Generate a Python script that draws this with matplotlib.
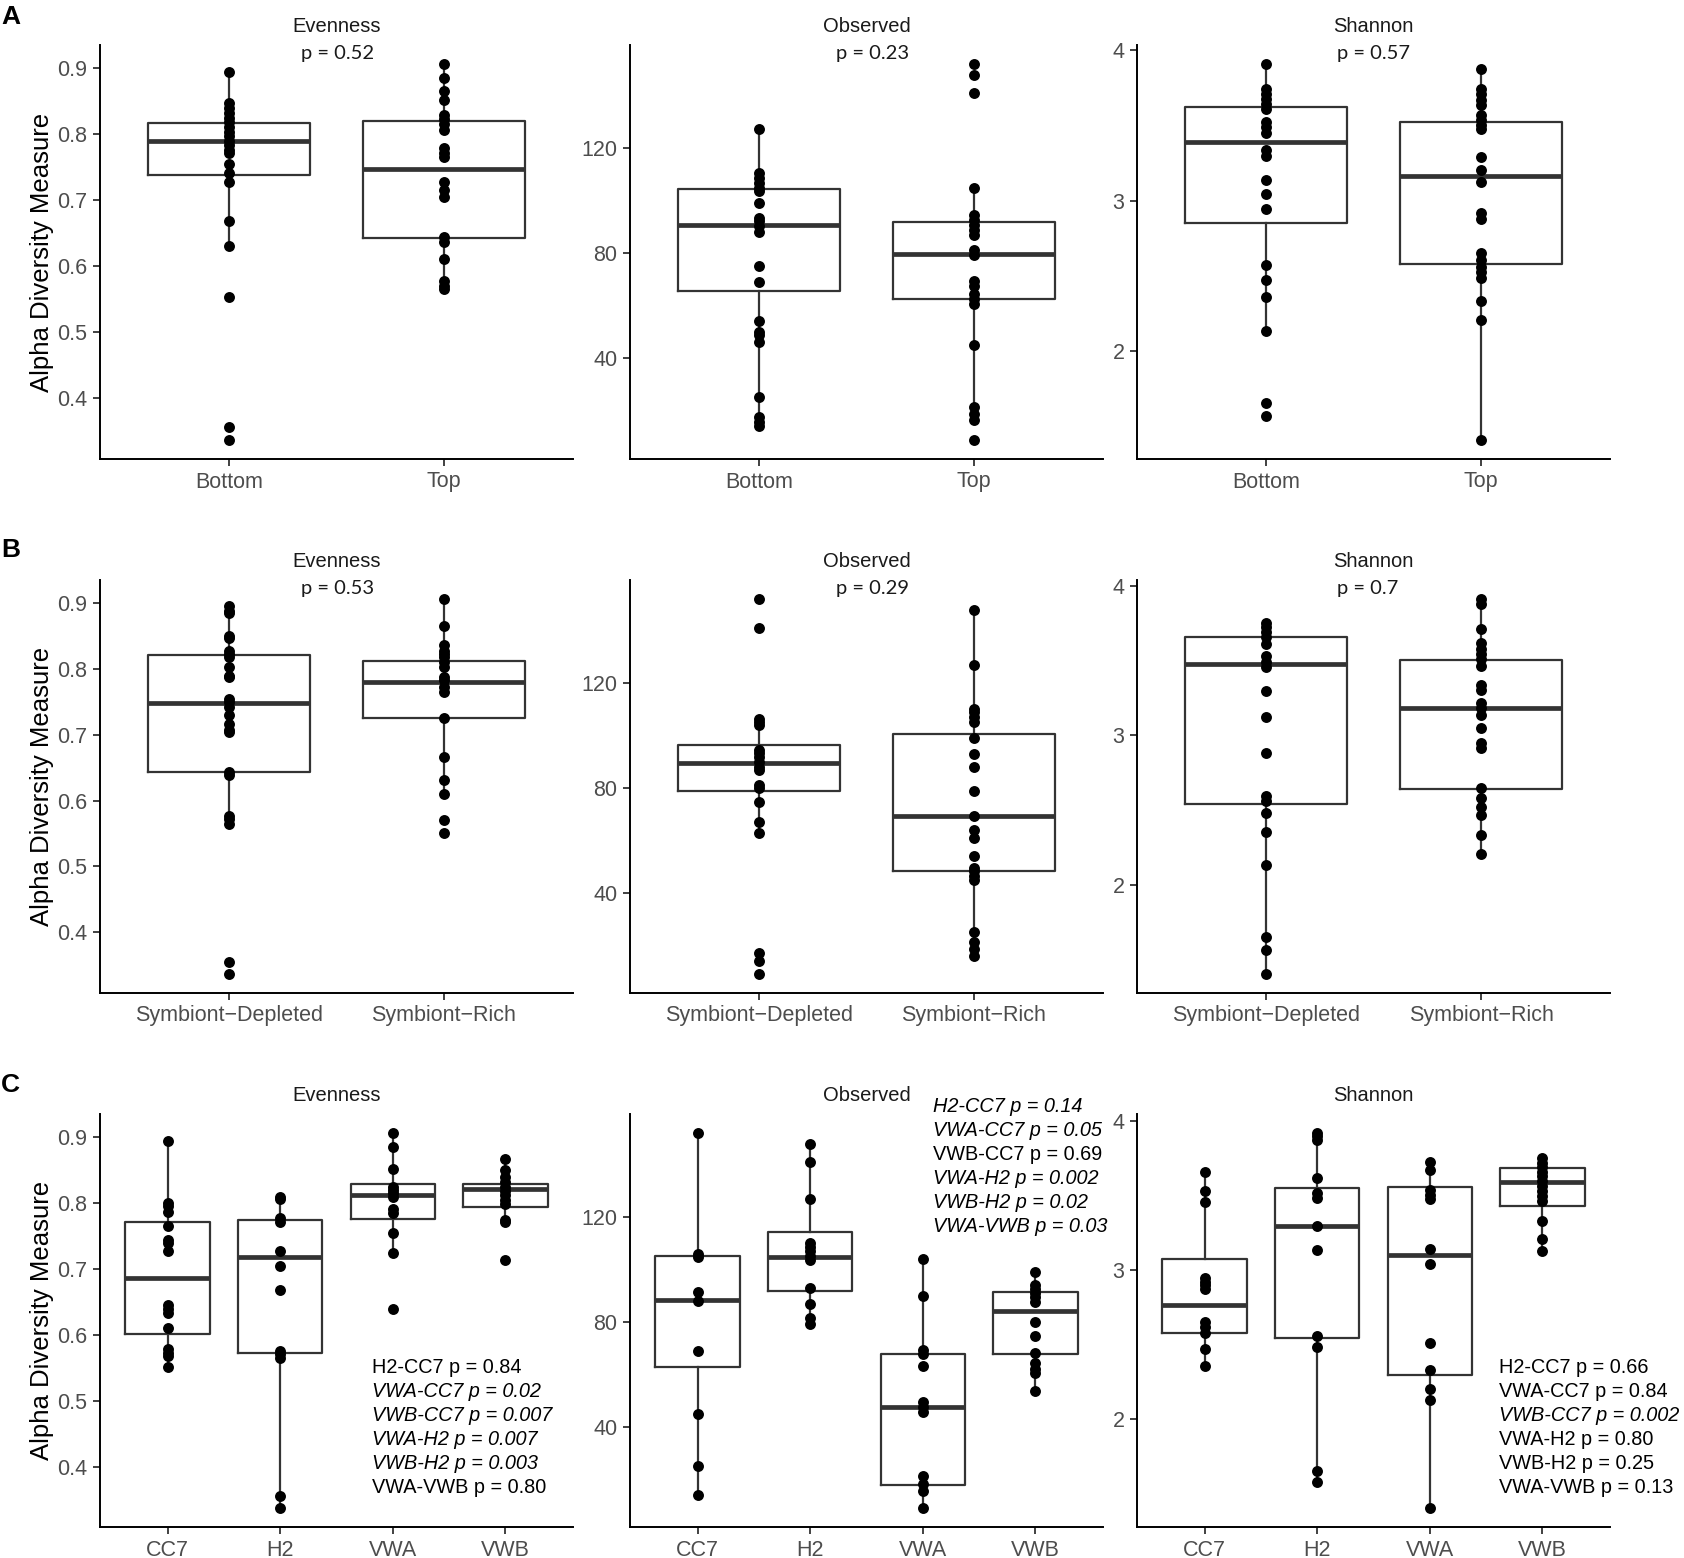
import matplotlib
matplotlib.use("Agg")
import matplotlib.pyplot as plt

plt.rcParams["font.family"] = ["Liberation Sans", "DejaVu Sans"]

# ---- row A: Bottom vs Top ----
a_groups = ["Bottom", "Top"]
a_even_bottom = [0.894, 0.848, 0.840, 0.832, 0.825, 0.818, 0.811, 0.804, 0.797, 0.790, 0.784,
                 0.777, 0.771, 0.755, 0.742, 0.728, 0.668, 0.631, 0.553, 0.356, 0.336]
a_even_top = [0.907, 0.886, 0.866, 0.852, 0.829, 0.824, 0.815, 0.806, 0.779, 0.771, 0.766,
              0.728, 0.716, 0.705, 0.645, 0.637, 0.611, 0.577, 0.570, 0.565]
a_even_box = [(0.631, 0.739, 0.790, 0.817, 0.894), (0.565, 0.643, 0.747, 0.820, 0.907)]

a_obs_bottom = [127.0, 110.3, 108.4, 106.5, 104.6, 103.6, 98.9, 93.2, 91.9, 90.0, 87.9,
                74.9, 68.9, 53.8, 49.6, 48.6, 45.8, 24.9, 17.3, 15.4, 13.8]
a_obs_top = [152.0, 147.8, 140.9, 104.8, 94.5, 92.6, 90.7, 88.8, 86.9, 81.1, 79.2,
             69.2, 67.3, 64.1, 62.2, 60.6, 44.8, 21.1, 18.6, 16.1, 8.5]
a_obs_box = [(13.8, 65.3, 90.4, 104.2, 127.0), (16.1, 62.5, 79.5, 91.6, 104.8)]

a_shan_bottom = [3.911, 3.745, 3.712, 3.679, 3.646, 3.612, 3.524, 3.491, 3.453, 3.336,
                 3.296, 3.136, 3.043, 2.941, 2.571, 2.472, 2.361, 2.133, 1.652, 1.568]
a_shan_top = [3.874, 3.745, 3.712, 3.668, 3.640, 3.568, 3.535, 3.502, 3.480, 3.291, 3.203,
              3.125, 2.915, 2.875, 2.649, 2.605, 2.560, 2.525, 2.483, 2.332, 2.206, 1.404]
a_shan_box = [(2.133, 2.853, 3.391, 3.623, 3.911), (1.404, 2.578, 3.163, 3.524, 3.874)]
a_pvals = ["p = 0.52", "p = 0.23", "p = 0.57"]

# ---- row B: Symbiont-Depleted vs Symbiont-Rich ----
b_groups = ["Symbiont\u2212Depleted", "Symbiont\u2212Rich"]
b_even_dep = [0.896, 0.889, 0.885, 0.851, 0.847, 0.828, 0.823, 0.818, 0.803, 0.790, 0.788,
              0.755, 0.750, 0.742, 0.730, 0.717, 0.707, 0.704, 0.644, 0.639, 0.577, 0.572,
              0.565, 0.355, 0.336]
b_even_rich = [0.907, 0.866, 0.836, 0.828, 0.823, 0.818, 0.811, 0.803, 0.788, 0.783, 0.773,
               0.765, 0.726, 0.667, 0.632, 0.610, 0.570, 0.551]
b_even_box = [(0.565, 0.643, 0.748, 0.821, 0.896), (0.610, 0.726, 0.780, 0.812, 0.907)]

b_obs_dep = [151.9, 140.9, 106.3, 105.1, 103.8, 94.3, 93.1, 91.6, 89.9, 88.0, 86.8, 81.0,
             79.8, 74.7, 67.1, 62.7, 17.2, 14.1, 9.0]
b_obs_rich = [147.8, 126.8, 110.1, 108.9, 107.0, 105.1, 98.8, 92.8, 88.0, 78.9, 69.1, 64.0,
              60.8, 53.9, 49.5, 48.2, 46.3, 44.8, 25.1, 21.3, 18.5, 16.0]
b_obs_box = [(62.7, 78.8, 89.5, 96.2, 106.3), (16.0, 48.4, 69.2, 100.4, 147.8)]

b_shan_dep = [3.753, 3.726, 3.693, 3.659, 3.610, 3.530, 3.492, 3.459, 3.298, 3.125, 2.880,
              2.595, 2.557, 2.479, 2.352, 2.129, 1.648, 1.561, 1.399]
b_shan_rich = [3.915, 3.882, 3.715, 3.619, 3.581, 3.548, 3.514, 3.465, 3.336, 3.303, 3.214,
               3.180, 3.136, 3.047, 2.947, 2.913, 2.650, 2.579, 2.519, 2.468, 2.334, 2.205]
b_shan_box = [(1.399, 2.541, 3.477, 3.661, 3.753), (2.205, 2.639, 3.180, 3.508, 3.915)]
b_pvals = ["p = 0.53", "p = 0.29", "p = 0.7"]

# ---- row C: CC7, H2, VWA, VWB ----
c_groups = ["CC7", "H2", "VWA", "VWB"]
c_even_cc7 = [0.895, 0.801, 0.796, 0.787, 0.766, 0.744, 0.739, 0.728, 0.645, 0.640, 0.633,
              0.611, 0.578, 0.573, 0.568, 0.552]
c_even_h2 = [0.810, 0.806, 0.777, 0.772, 0.728, 0.705, 0.668, 0.576, 0.571, 0.565, 0.356, 0.337]
c_even_vwa = [0.907, 0.886, 0.852, 0.825, 0.820, 0.815, 0.810, 0.791, 0.785, 0.755, 0.725, 0.639]
c_even_vwb = [0.867, 0.850, 0.840, 0.833, 0.825, 0.819, 0.813, 0.805, 0.799, 0.775, 0.771, 0.714]
c_even_box = [(0.552, 0.602, 0.686, 0.771, 0.895), (0.337, 0.572, 0.718, 0.774, 0.810),
              (0.725, 0.776, 0.812, 0.829, 0.907), (0.771, 0.795, 0.822, 0.829, 0.867)]

c_obs_cc7 = [151.9, 105.8, 104.6, 91.1, 87.7, 68.7, 44.7, 24.8, 13.9]
c_obs_h2 = [147.8, 140.9, 126.8, 110.1, 108.4, 106.7, 105.1, 103.5, 92.8, 86.8, 81.3, 78.9]
c_obs_vwa = [103.9, 89.9, 69.1, 67.5, 63.0, 49.4, 47.6, 45.6, 21.0, 18.1, 15.6, 8.9]
c_obs_vwb = [98.8, 94.0, 92.3, 90.8, 89.3, 87.6, 80.0, 74.6, 68.0, 64.2, 61.9, 60.3, 53.7]
c_obs_box = [(13.9, 62.8, 88.1, 105.1, 151.9), (78.9, 91.8, 104.6, 114.2, 147.8),
             (8.9, 17.7, 47.6, 67.5, 103.9), (53.7, 67.6, 84.1, 91.4, 98.8)]

c_shan_cc7 = [3.656, 3.529, 3.456, 2.949, 2.922, 2.900, 2.871, 2.656, 2.618, 2.578, 2.471, 2.360]
c_shan_h2 = [3.922, 3.900, 3.871, 3.618, 3.516, 3.484, 3.296, 3.133, 2.560, 2.484, 1.656, 1.578]
c_shan_vwa = [3.727, 3.671, 3.538, 3.507, 3.478, 3.144, 3.044, 2.511, 2.333, 2.204, 2.133, 1.404]
c_shan_vwb = [3.751, 3.722, 3.693, 3.662, 3.633, 3.600, 3.567, 3.533, 3.500, 3.467, 3.333,
              3.207, 3.127]
c_shan_box = [(2.360, 2.582, 2.767, 3.073, 3.656), (1.578, 2.544, 3.296, 3.549, 3.922),
              (1.404, 2.300, 3.100, 3.560, 3.727), (3.127, 3.433, 3.589, 3.684, 3.751)]

c_even_tests = ["H2-CC7 p = 0.84", "VWA-CC7 p = 0.02", "VWB-CC7 p = 0.007",
                "VWA-H2 p = 0.007", "VWB-H2 p = 0.003", "VWA-VWB p = 0.80"]
c_even_sig = [False, True, True, True, True, False]
c_obs_tests = ["H2-CC7 p = 0.14", "VWA-CC7 p = 0.05", "VWB-CC7 p = 0.69",
               "VWA-H2 p = 0.002", "VWB-H2 p = 0.02", "VWA-VWB p = 0.03"]
c_obs_sig = [True, True, False, True, True, True]
c_shan_tests = ["H2-CC7 p = 0.66", "VWA-CC7 p = 0.84", "VWB-CC7 p = 0.002",
                "VWA-H2 p = 0.80", "VWB-H2 p = 0.25", "VWA-VWB p = 0.13"]
c_shan_sig = [False, False, True, False, False, False]

metrics = ["Evenness", "Observed", "Shannon"]
yticks = [[0.4, 0.5, 0.6, 0.7, 0.8, 0.9], [40, 80, 120], [2, 3, 4]]
ytick_labels = [["0.4", "0.5", "0.6", "0.7", "0.8", "0.9"], ["40", "80", "120"], ["2", "3", "4"]]

W, H = 1684, 1558
fig = plt.figure(figsize=(W / 100, H / 100), dpi=100)

col_left = [100, 630, 1137]
ax_w = 473
row_top = [45, 580, 1114]
row_bot = [459, 993, 1527]

BOXC = "#333333"
TICKC = "#4D4D4D"


def draw_panel(ax, groups, samples, boxes, col):
    pos = list(range(1, len(groups) + 1))
    stats = [dict(whislo=b[0], q1=b[1], med=b[2], q3=b[3], whishi=b[4], fliers=[]) for b in boxes]
    ax.bxp(stats, positions=pos, widths=0.75, showcaps=False, showfliers=False,
           boxprops=dict(color=BOXC, lw=1.6),
           whiskerprops=dict(color=BOXC, lw=1.6),
           medianprops=dict(color=BOXC, lw=3.4))
    for p, vals in zip(pos, samples):
        ax.scatter([p] * len(vals), vals, s=62, color="black", zorder=3, linewidths=0)
    allv = [v for vals in samples for v in vals]
    lo, hi = min(allv), max(allv)
    pad = 0.05 * (hi - lo)
    ax.set_ylim(lo - pad, hi + pad)
    ax.set_xlim(0.4, len(groups) + 0.6)
    ax.set_xticks(pos)
    ax.set_xticklabels(groups)
    ax.set_yticks(yticks[col])
    ax.set_yticklabels(ytick_labels[col])
    for s in ["top", "right"]:
        ax.spines[s].set_visible(False)
    for s in ["left", "bottom"]:
        ax.spines[s].set_linewidth(1.4)
        ax.spines[s].set_color("black")
    ax.tick_params(length=5, width=1.3, color=BOXC, labelcolor=TICKC, labelsize=15.5, pad=4)
    ax.annotate(metrics[col], xy=(0.5, 1), xycoords="axes fraction", xytext=(0, 13),
                textcoords="offset points", ha="center", va="center", fontsize=14.5,
                color="#1A1A1A")
    if col == 0:
        ax.set_ylabel("Alpha Diversity Measure", fontsize=18.5, va="center")
        ax.yaxis.set_label_coords(-0.122, 0.5)


rows = [
    (a_groups, [[a_even_bottom, a_even_top], [a_obs_bottom, a_obs_top], [a_shan_bottom, a_shan_top]],
     [a_even_box, a_obs_box, a_shan_box]),
    (b_groups, [[b_even_dep, b_even_rich], [b_obs_dep, b_obs_rich], [b_shan_dep, b_shan_rich]],
     [b_even_box, b_obs_box, b_shan_box]),
    (c_groups, [[c_even_cc7, c_even_h2, c_even_vwa, c_even_vwb],
                [c_obs_cc7, c_obs_h2, c_obs_vwa, c_obs_vwb],
                [c_shan_cc7, c_shan_h2, c_shan_vwa, c_shan_vwb]],
     [c_even_box, c_obs_box, c_shan_box]),
]

pvals = [a_pvals, b_pvals]
p_left = [0.425, 0.435, 0.423]
tests = [c_even_tests, c_obs_tests, c_shan_tests]
sigs = [c_even_sig, c_obs_sig, c_shan_sig]
test_xy = [(0.575, 0.385), (0.641, 1.019), (0.765, 0.385)]

for r, (groups, samples, boxes) in enumerate(rows):
    for c in range(3):
        ax = fig.add_axes([col_left[c] / W, 1 - row_bot[r] / H, ax_w / W,
                           (row_bot[r] - row_top[r]) / H])
        draw_panel(ax, groups, samples[c], boxes[c], c)
        if r < 2:
            ax.annotate(pvals[r][c], xy=(p_left[c], 1), xycoords="axes fraction",
                        xytext=(0, -6), textcoords="offset points", ha="left", va="center",
                        fontsize=14.5, family=["Lato", "DejaVu Sans"], color="#1A1A1A")
        else:
            tx, ty = test_xy[c]
            step = 24 / (row_bot[r] - row_top[r])
            for i, (t, sig) in enumerate(zip(tests[c], sigs[c])):
                ax.text(tx, ty - i * step, t, transform=ax.transAxes, ha="left", va="center",
                        fontsize=14.3, style="italic" if sig else "normal", color="black",
                        clip_on=False)

for letter, y in zip(["A", "B", "C"], [17, 550, 1085]):
    fig.text(1 / W, 1 - y / H, letter, fontsize=19, fontweight="bold", ha="left", va="center")

fig.savefig("out.png", dpi=100)
